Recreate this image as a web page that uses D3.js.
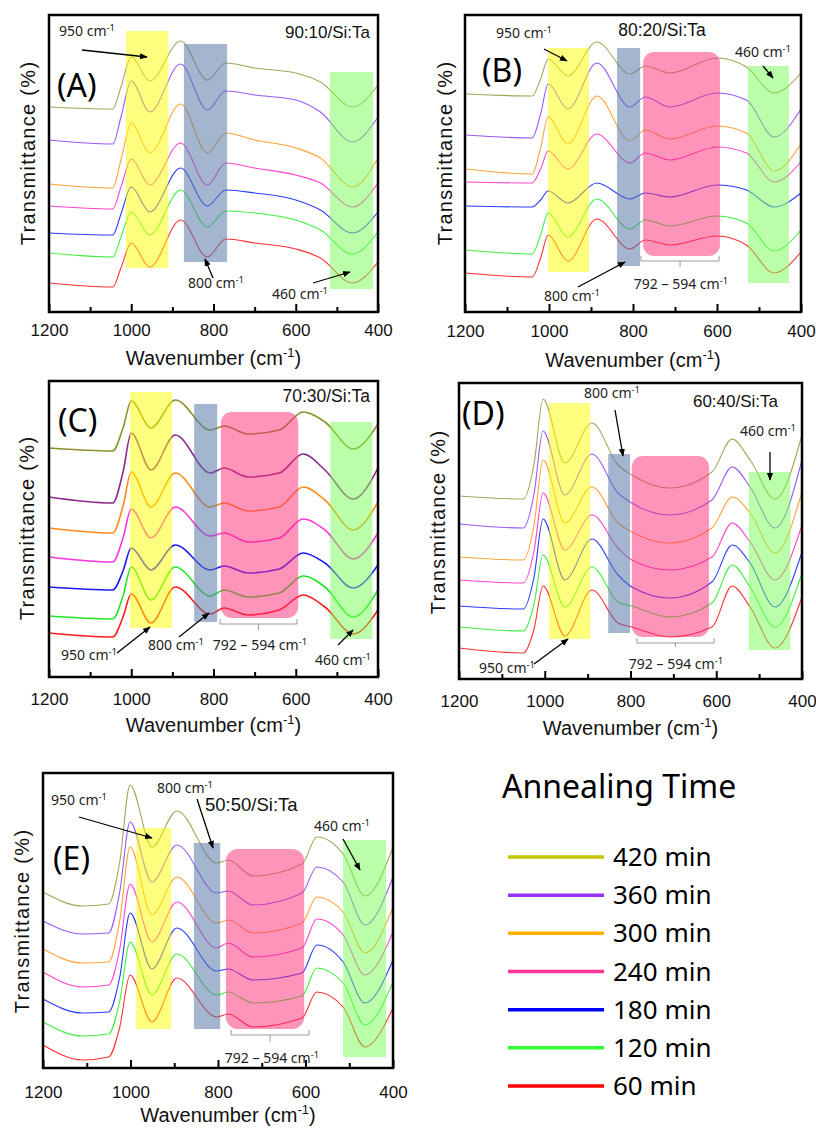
<!DOCTYPE html>
<html>
<head>
<meta charset="utf-8">
<script src="https://cdn.jsdelivr.net/npm/d3@7"></script>
<style>
  body { margin: 0; background: #fff; }
  svg { display: block; }
</style>
</head>
<body>
<script>
// series order in every panel: top curve (420 min) first, bottom (60 min) last
const times = ['420 min', '360 min', '300 min', '240 min', '180 min', '120 min', '60 min'];
const legendColors = ['#c4c400', '#9933ff', '#ffb000', '#ff3399', '#0000ff', '#33ff33', '#ff0000'];
const lineColors   = ['#a5a55a', '#9b59f5', '#ffa238', '#ff44cc', '#2b3cff', '#3cf03c', '#ff3030'];

const xTicks = [1200, 1000, 800, 600, 400];
const xMinor = [1100, 900, 700, 500];

// transmittance (a.u., offset stacked)
const wnA = [1200, 1045, 1025, 1000, 955, 880, 815, 770, 700, 600, 540, 462, 400];
const specA = [
  [205, 203, 225, 255, 231, 271, 232, 249, 244, 239, 230, 205, 227],
  [172, 168, 195, 231, 200, 248, 202, 221, 217, 212, 200, 170, 195],
  [128, 124, 152, 189, 159, 208, 159, 179, 172, 164, 154, 125, 154],
  [106, 103, 125, 153, 127, 169, 127, 149, 144, 137, 129, 105, 129],
  [ 79,  77,  98, 125, 100, 144, 106, 122, 119, 112, 102,  79, 100],
  [ 59,  55,  75, 100,  77, 122,  85, 101,  99,  92,  82,  58,  80],
  [ 29,  25,  44,  69,  45,  92,  55,  73,  69,  63,  54,  29,  50]
];

const wnB = [1200, 1040, 1020, 1002, 955, 886, 807, 771, 712, 600, 530, 464, 400];
const specB = [
  [218, 216, 233, 253, 236, 270, 238, 246, 239, 254, 245, 219, 239],
  [177, 174, 198, 228, 203, 249, 205, 215, 205, 219, 212, 175, 203],
  [143, 138, 164, 195, 168, 216, 171, 182, 173, 186, 179, 141, 168],
  [130, 129, 143, 161, 143, 178, 149, 159, 152, 165, 159, 130, 150],
  [106, 105, 112, 121, 109, 129, 113, 119, 115, 127, 122, 105, 119],
  [ 62,  58,  77,  99,  75, 113,  83,  92,  86,  96,  89,  61,  82],
  [ 39,  35,  54,  77,  51,  93,  63,  72,  67,  76,  67,  39,  60]
];

const wnC = [1200, 1045, 1020, 1000, 952, 893, 808, 774, 716, 640, 582, 529, 460, 400];
const specC = [
  [229, 226, 249, 276, 249, 277, 247, 251, 243, 247, 265, 255, 228, 253],
  [180, 174, 205, 244, 207, 242, 204, 209, 200, 204, 223, 207, 178, 209],
  [149, 144, 171, 205, 170, 204, 170, 174, 166, 170, 190, 177, 147, 175],
  [120, 115, 139, 168, 139, 170, 141, 144, 135, 139, 158, 147, 118, 144],
  [ 90,  87, 106, 129, 107, 132, 107, 111, 104, 108, 124, 114,  89, 112],
  [ 61,  58,  81, 110,  77, 110,  81,  87,  80,  84, 101,  90,  60,  87],
  [ 44,  40,  60,  83,  54,  90,  63,  69,  62,  67,  82,  70,  43,  67]
];

const wnD = [1200, 1050, 1025, 1004, 953, 890, 829, 797, 708, 610, 563, 521, 463, 400];
const specD = [
  [183, 180, 215, 280, 216, 256, 214, 204, 191, 207, 240, 219, 180, 244],
  [155, 151, 185, 248, 184, 225, 186, 176, 164, 179, 212, 192, 151, 219],
  [122, 119, 154, 219, 156, 192, 156, 147, 136, 151, 182, 166, 126, 187],
  [ 99,  96, 128, 186, 129, 164, 131, 119, 109, 122, 156, 137,  99, 154],
  [ 73,  70, 102, 160,  99, 140, 104,  92,  81,  97, 134, 116,  72, 127],
  [ 52,  48,  75, 124,  72, 112,  77,  73,  62,  76, 114,  92,  52, 106],
  [ 31,  26,  50,  93,  43,  89,  56,  52,  42,  52,  93,  72,  31,  82]
];

const wnE = [1200, 1110, 1050, 1025, 1001, 951, 894, 803, 777, 720, 608, 574, 514, 464, 400];
const specE = [
  [176, 162, 164, 205, 283, 221, 257, 205, 208, 192, 204, 231, 214, 172, 221],
  [147, 134, 135, 175, 246, 186, 223, 175, 177, 163, 175, 201, 186, 143, 191],
  [119, 105, 106, 146, 221, 153, 191, 145, 148, 135, 145, 171, 156, 115, 161],
  [ 96,  81,  83, 118, 184, 126, 166, 120, 125, 111, 120, 149, 133,  93, 136],
  [ 69,  55,  56,  90, 155,  99, 140,  97,  99,  88,  95, 123, 106,  65, 108],
  [ 46,  32,  34,  66, 126,  73, 114,  73,  76,  65,  72, 100,  85,  43,  86],
  [ 23,   8,  11,  40,  93,  46,  90,  51,  54,  41,  50,  76,  61,  21,  60]
];

const boxFill = { yel: '#ffff00', gry: '#5a78aa', pnk: '#ff2a78', grn: '#77ff55' };
const boxAlpha = { yel: 0.5, gry: 0.55, pnk: 0.5, grn: 0.5 };

const panels = [
  { letter: '(A)', title: '90:10/Si:Ta', left: 49, top: 15, w: 329, h: 297, wn: wnA, spec: specA, lw: 1.1,
    letterAt: [8, 82], titleAt: [321, 23], titleAnchor: 'end', titleSize: 17,
    tickY: 24, xLabY: 53, xLabDx: 0, yLab: [-21, 138],
    boxes: [
      { k: 'yel', wn: [1013, 910], v: [44, 281] },
      { k: 'gry', wn: [872, 767], v: [50, 268] },
      { k: 'grn', wn: [517, 412], v: [23, 240] }
    ],
    notes: [
      { t: '950', at: [10, 21], from: [33, 35], to: [98, 42] },
      { t: '800', at: [139, 273], from: [164, 263], to: [156, 244] },
      { t: '460', at: [223, 284], from: [264, 268], to: [301, 257] }
    ] },
  { letter: '(B)', title: '80:20/Si:Ta', left: 465, top: 15, w: 336, h: 297, wn: wnB, spec: specB, lw: 1.1,
    letterAt: [17, 67], titleAt: [197, 21], titleAnchor: 'middle', titleSize: 17.5,
    tickY: 25, xLabY: 55, xLabDx: 0, yLab: [-20, 138],
    boxes: [
      { k: 'yel', wn: [1002, 905], v: [40, 264] },
      { k: 'gry', wn: [838, 783], v: [46, 264] },
      { k: 'pnk', wn: [776, 593], v: [56, 260], rx: 11 },
      { k: 'grn', wn: [526, 429], v: [29, 246] }
    ],
    bracket: { wn: [781, 595], v: [56, 51, 45], at: [216, 274] },
    notes: [
      { t: '950', at: [31, 23], from: [79, 34], to: [102, 46] },
      { t: '460', at: [270, 42], from: [298, 51], to: [308, 63] },
      { t: '800', at: [79, 286], from: [113, 272], to: [160, 247] }
    ] },
  { letter: '(C)', title: '70:30/Si:Ta', left: 49, top: 381, w: 329, h: 296, wn: wnC, spec: specC, lw: 1.6,
    colors: ['#8f8f2a', '#8b2b8b', '#ff8c1a', '#ff33dd', '#1a1aff', '#22e622', '#ff1a1a'],
    letterAt: [9, 51], titleAt: [321, 21], titleAnchor: 'end', titleSize: 17.5,
    tickY: 28, xLabY: 55, xLabDx: 0, yLab: [-22, 147],
    boxes: [
      { k: 'yel', wn: [1003, 901], v: [49, 285] },
      { k: 'gry', wn: [847, 791], v: [55, 273] },
      { k: 'pnk', wn: [782, 594], v: [59, 265], rx: 11 },
      { k: 'grn', wn: [516, 414], v: [38, 255] }
    ],
    bracket: { wn: [784, 597], v: [58, 53, 47], at: [211, 269] },
    notes: [
      { t: '950', at: [12, 279], from: [68, 272], to: [101, 246] },
      { t: '800', at: [99, 269], from: [130, 256], to: [160, 232] },
      { t: '460', at: [266, 284], from: [289, 264], to: [304, 249] }
    ] },
  { letter: '(D)', title: '60:40/Si:Ta', left: 459, top: 383, w: 343, h: 296, wn: wnD, spec: specD, lw: 1.1,
    letterAt: [3, 42], titleAt: [319, 24], titleAnchor: 'end', titleSize: 17,
    tickY: 28, xLabY: 56, xLabDx: 0, yLab: [-21, 139],
    boxes: [
      { k: 'yel', wn: [990, 894], v: [40, 276] },
      { k: 'gry', wn: [852, 801], v: [46, 225] },
      { k: 'pnk', wn: [797, 617], v: [42, 223], rx: 11 },
      { k: 'grn', wn: [524, 427], v: [29, 207] }
    ],
    bracket: { wn: [785, 605], v: [41, 36, 32], at: [217, 286] },
    notes: [
      { t: '950', at: [20, 290], from: [75, 281], to: [109, 256] },
      { t: '800', at: [125, 15], from: [156, 27], to: [164, 73] },
      { t: '460', at: [281, 53], from: [311, 69], to: [311, 97] }
    ] },
  { letter: '(E)', title: '50:50/Si:Ta', left: 43, top: 773, w: 350, h: 295, wn: wnE, spec: specE, lw: 1.1,
    letterAt: [10, 97], titleAt: [162, 38], titleAnchor: 'start', titleSize: 18.5,
    tickY: 30, xLabY: 54, xLabDx: 10, yLab: [-21, 148],
    boxes: [
      { k: 'yel', wn: [987, 907], v: [39, 240] },
      { k: 'gry', wn: [855, 795], v: [39, 225] },
      { k: 'pnk', wn: [782, 603], v: [39, 219], rx: 12 },
      { k: 'grn', wn: [514, 416], v: [11, 228] }
    ],
    bracket: { wn: [770, 592], v: [38, 33, 26], at: [229, 290] },
    notes: [
      { t: '950', at: [8, 32], from: [36, 44], to: [109, 65] },
      { t: '800', at: [114, 20], from: [154, 26], to: [170, 75] },
      { t: '460', at: [271, 58], from: [300, 66], to: [317, 97] }
    ] }
];

const svg = d3.select('body').append('svg')
    .attr('width', 816)
    .attr('height', 1130);

svg.append('defs').append('marker')
    .attr('id', 'head')
    .attr('viewBox', '0 0 10 10')
    .attr('refX', 9).attr('refY', 5)
    .attr('markerWidth', 6).attr('markerHeight', 6)
    .attr('orient', 'auto')
  .append('path')
    .attr('d', 'M0,1 L10,5 L0,9 Z')
    .attr('fill', '#000');

const annFont = "'Noto Sans', 'Open Sans', sans-serif";
const axFont = "'Liberation Sans', Arial, sans-serif";
const annSize = 14;

// "<num> cm-1" with a superscript
function cmText(sel, prefix, size) {
  sel.append('tspan').text(prefix + ' cm');
  sel.append('tspan').attr('dy', -size * 0.38).attr('font-size', size * 0.68).text('-1');
}

function drawPanel(p) {
  const g = svg.append('g').attr('transform', 'translate(' + p.left + ',' + p.top + ')');

  const x = d3.scaleLinear().domain([1200, 400]).range([0, p.w]);
  const y = d3.scaleLinear().domain([0, p.h]).range([p.h, 0]);

  const line = d3.line()
      .x(function (d) { return x(d[0]); })
      .y(function (d) { return y(d[1]); })
      .curve(d3.curveMonotoneX);

  const colors = p.colors || lineColors;
  p.spec.forEach(function (s, i) {
    g.append('path')
        .attr('d', line(p.wn.map(function (w, j) { return [w, s[j]]; })))
        .attr('fill', 'none')
        .attr('stroke', colors[i])
        .attr('stroke-width', p.lw);
  });

  // highlight bands sit over the curves
  p.boxes.forEach(function (b) {
    g.append('rect')
        .attr('x', x(b.wn[0]))
        .attr('width', x(b.wn[1]) - x(b.wn[0]))
        .attr('y', y(b.v[1]))
        .attr('height', y(b.v[0]) - y(b.v[1]))
        .attr('rx', b.rx || 0)
        .attr('fill', boxFill[b.k])
        .attr('fill-opacity', boxAlpha[b.k]);
  });

  if (p.bracket) {
    const br = p.bracket;
    const x0 = x(br.wn[0]), x1 = x(br.wn[1]), xm = (x0 + x1) / 2;
    g.append('path')
        .attr('d', 'M' + x0 + ',' + y(br.v[0]) + 'V' + y(br.v[1]) + 'H' + x1 + 'V' + y(br.v[0]) +
                   'M' + xm + ',' + y(br.v[1]) + 'V' + y(br.v[2]))
        .attr('fill', 'none')
        .attr('stroke', '#9a9a9a')
        .attr('stroke-width', 1);
    const bt = g.append('text')
        .attr('x', br.at[0]).attr('y', br.at[1])
        .attr('text-anchor', 'middle')
        .attr('font-family', annFont)
        .attr('font-size', annSize)
        .attr('fill', '#222');
    cmText(bt, '792 \u2013 594', annSize);
  }

  p.notes.forEach(function (n) {
    const t = g.append('text')
        .attr('x', n.at[0]).attr('y', n.at[1])
        .attr('font-family', annFont)
        .attr('font-size', annSize)
        .attr('fill', '#222');
    cmText(t, n.t, annSize);
    g.append('line')
        .attr('x1', n.from[0]).attr('y1', n.from[1])
        .attr('x2', n.to[0]).attr('y2', n.to[1])
        .attr('stroke', '#000')
        .attr('stroke-width', 1.3)
        .attr('marker-end', 'url(#head)');
  });

  // axis: inward ticks on the bottom edge only
  const axisG = g.append('g').attr('transform', 'translate(0,' + p.h + ')');
  axisG.call(d3.axisBottom(x).tickValues(xTicks).tickSize(-8).tickFormat(d3.format('d')));
  axisG.append('g').call(d3.axisBottom(x).tickValues(xMinor).tickSize(-5).tickFormat(''));
  axisG.selectAll('.domain').remove();
  axisG.selectAll('.tick line').attr('stroke', '#000').attr('stroke-width', 2);
  axisG.selectAll('.tick text')
      .attr('y', p.tickY).attr('dy', null)
      .attr('font-family', axFont)
      .attr('font-size', 17)
      .attr('fill', '#111');

  g.append('rect')
      .attr('width', p.w).attr('height', p.h)
      .attr('fill', 'none')
      .attr('stroke', '#000')
      .attr('stroke-width', 2.5);

  const xl = g.append('text')
      .attr('x', p.w / 2 + p.xLabDx).attr('y', p.h + p.xLabY)
      .attr('text-anchor', 'middle')
      .attr('font-family', axFont)
      .attr('font-size', 20)
      .attr('fill', '#111');
  xl.append('tspan').text('Wavenumber (cm');
  xl.append('tspan').attr('dy', -8).attr('font-size', 13).text('-1');
  xl.append('tspan').attr('dy', 8).text(')');

  g.append('text')
      .attr('transform', 'translate(' + p.yLab[0] + ',' + p.yLab[1] + ') rotate(-90)')
      .attr('text-anchor', 'middle')
      .attr('dominant-baseline', 'central')
      .attr('font-family', axFont)
      .attr('font-size', 20)
      .attr('letter-spacing', 1.3)
      .attr('fill', '#111')
      .text('Transmittance (%)');

  g.append('text')
      .attr('x', p.letterAt[0]).attr('y', p.letterAt[1])
      .attr('font-family', annFont)
      .attr('font-size', 32)
      .attr('fill', '#000')
      .text(p.letter);

  g.append('text')
      .attr('x', p.titleAt[0]).attr('y', p.titleAt[1])
      .attr('text-anchor', p.titleAnchor)
      .attr('font-family', axFont)
      .attr('font-size', p.titleSize)
      .attr('fill', '#111')
      .text(p.title);
}

panels.forEach(drawPanel);

// legend
const legend = svg.append('g');
legend.append('text')
    .attr('x', 502).attr('y', 798)
    .attr('font-family', annFont)
    .attr('font-size', 32)
    .attr('fill', '#000')
    .text('Annealing Time');

const rowY = d3.scalePoint().domain(times).range([857, 1086]);
times.forEach(function (t, i) {
  legend.append('line')
      .attr('x1', 508).attr('x2', 604)
      .attr('y1', rowY(t)).attr('y2', rowY(t))
      .attr('stroke', legendColors[i])
      .attr('stroke-width', 3.5);
  legend.append('text')
      .attr('x', 613).attr('y', rowY(t) + 9)
      .attr('font-family', annFont)
      .attr('font-size', 26)
      .attr('fill', '#000')
      .text(t);
});
</script>
</body>
</html>
